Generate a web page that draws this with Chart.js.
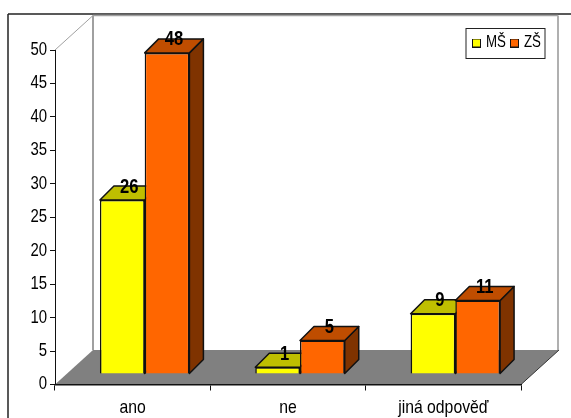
<!DOCTYPE html>
<html>
<head>
<meta charset="utf-8">
<style>
  html, body { margin: 0; padding: 0; background: #fff; overflow: hidden; }
  canvas { display: block; }
</style>
<script src="https://cdn.jsdelivr.net/npm/chart.js@4"></script>
</head>
<body>
<canvas id="chart" width="571" height="418"></canvas>
<script>
const categories = ['ano', 'ne', 'jiná odpověď'];
const seriesNames = ['MŠ', 'ZŠ'];
const msValues = [26, 1, 9];
const zsValues = [48, 5, 11];
const yTicksMax = 50;
const yTicksStep = 5;

const FONT = '"Liberation Sans", Arial, sans-serif';
const TEXT_SQUEEZE = 0.83;

// Projection of the 3D look: how far the walls recede and where bars stand on the floor.
const WALL_DX = 38, WALL_DY = 34.5;
const BAR_DX = 12, BAR_DY = 10.5;
const DEPTH_DX = 14, DEPTH_DY = 14;

const frontColors = ['#ffff00', '#ff6600'];
const faceColors = [
  { top: '#bfbf00', side: '#808000' },
  { top: '#bf4d00', side: '#7f3300' }
];

const canvas = document.getElementById('chart');
const context = canvas.getContext('2d');

// All labels use a narrow cut of the type: squeeze glyphs horizontally around their anchor.
const plainFillText = context.fillText.bind(context);
context.fillText = function (text, x, y, maxWidth) {
  context.save();
  context.translate(x, y);
  context.scale(TEXT_SQUEEZE, 1);
  if (maxWidth === undefined) plainFillText(text, 0, 0);
  else plainFillText(text, 0, 0, maxWidth / TEXT_SQUEEZE);
  context.restore();
};

function poly(ctx, pts, fill, stroke, width) {
  ctx.beginPath();
  pts.forEach((p, i) => i ? ctx.lineTo(p[0], p[1]) : ctx.moveTo(p[0], p[1]));
  ctx.closePath();
  if (fill) { ctx.fillStyle = fill; ctx.fill(); }
  if (stroke) { ctx.strokeStyle = stroke; ctx.lineWidth = width; ctx.stroke(); }
}

function line(ctx, x1, y1, x2, y2, color, width) {
  ctx.beginPath();
  ctx.moveTo(x1, y1);
  ctx.lineTo(x2, y2);
  ctx.strokeStyle = color;
  ctx.lineWidth = width;
  ctx.stroke();
}

// Small framed square used as a legend key.
function legendKey(color) {
  const key = document.createElement('canvas');
  key.width = 9;
  key.height = 9;
  const k = key.getContext('2d');
  k.fillStyle = color;
  k.fillRect(0, 0, 9, 9);
  k.strokeStyle = '#111';
  k.lineWidth = 1;
  k.strokeRect(0.5, 0.5, 8, 8);
  return key;
}

const box3d = {
  id: 'box3d',
  afterLayout(chart) {
    // Legend sits at a fixed spot in the upper right of the plot.
    const lg = chart.legend;
    const w = lg.width, h = lg.height;
    lg.left = 472; lg.right = 472 + w;
    lg.top = 32; lg.bottom = 32 + h;
  },
  beforeDraw(chart) {
    const { ctx, scales: { x, y } } = chart;
    const x0 = x.left, x1 = x.right, y0 = y.getPixelForValue(0), yTop = y.getPixelForValue(yTicksMax);

    ctx.save();
    // Outer frame of the picture, running off the right and bottom edges.
    line(ctx, 8, 14, 571, 14, '#222', 1.5);
    line(ctx, 8, 14, 8, 418, '#222', 1.5);

    // Back wall outline and receding edge.
    line(ctx, x0 + WALL_DX, yTop - WALL_DY, x1 + WALL_DX - 1, yTop - WALL_DY, '#a0a0a0', 1.5);
    line(ctx, x0 + WALL_DX, yTop - WALL_DY, x0 + WALL_DX, y0 - WALL_DY, '#a0a0a0', 2);
    line(ctx, x1 + WALL_DX - 1, yTop - WALL_DY, x1 + WALL_DX - 1, y0 - WALL_DY, '#b0b0b0', 2);
    line(ctx, x0, yTop, x0 + WALL_DX, yTop - WALL_DY, '#a0a0a0', 1);

    // Floor.
    poly(ctx, [[x0, y0], [x1, y0], [x1 + WALL_DX, y0 - WALL_DY], [x0 + WALL_DX, y0 - WALL_DY]], '#808080');
    line(ctx, x1, y0, x1 + WALL_DX, y0 - WALL_DY, '#333', 1);

    // Legend frame.
    ctx.fillStyle = '#fff';
    ctx.fillRect(466, 28.5, 79, 30);
    ctx.strokeStyle = '#222';
    ctx.lineWidth = 1;
    ctx.strokeRect(466, 28.5, 79, 30);
    ctx.restore();
  },
  beforeDatasetsDraw(chart) {
    // Draw series left to right so each bar overlaps the depth faces of its left neighbour.
    const { ctx, data } = chart;
    data.datasets.forEach((ds, i) => {
      const meta = chart.getDatasetMeta(i);
      const colors = faceColors[i];
      ctx.save();
      ctx.translate(BAR_DX, -BAR_DY);
      ctx.lineJoin = 'round';
      meta.data.forEach(bar => {
        const l = bar.x - bar.width / 2, r = bar.x + bar.width / 2;
        const t = bar.y, b = bar.base;
        poly(ctx, [[r, t], [r + DEPTH_DX, t - DEPTH_DY], [r + DEPTH_DX, b - DEPTH_DY], [r, b]], colors.side, '#111', 1.5);
        poly(ctx, [[l, t], [l + DEPTH_DX, t - DEPTH_DY], [r + DEPTH_DX, t - DEPTH_DY], [r, t]], colors.top, '#111', 1.5);
      });
      meta.controller.draw();
      ctx.restore();
    });

    // Value labels above the top faces.
    ctx.save();
    ctx.font = 'bold 20px ' + FONT;
    ctx.fillStyle = '#000';
    ctx.textAlign = 'center';
    ctx.textBaseline = 'middle';
    data.datasets.forEach((ds, i) => {
      chart.getDatasetMeta(i).data.forEach((bar, j) => {
        ctx.fillText(String(ds.data[j]), bar.x + BAR_DX + 7, bar.y - BAR_DY - 13);
      });
    });
    ctx.restore();
    return false;
  }
};

new Chart(canvas, {
  type: 'bar',
  plugins: [box3d],
  data: {
    labels: categories,
    datasets: [
      { label: seriesNames[0], data: msValues, backgroundColor: frontColors[0], borderColor: '#111', borderWidth: 1.5 },
      { label: seriesNames[1], data: zsValues, backgroundColor: frontColors[1], borderColor: '#111', borderWidth: 1.5 }
    ]
  },
  options: {
    responsive: false,
    animation: false,
    layout: { padding: { top: 21, right: 50, left: 0, bottom: 0 } },
    categoryPercentage: 0.576,
    barPercentage: 1,
    plugins: {
      tooltip: { enabled: false },
      legend: {
        position: 'top',
        align: 'start',
        labels: {
          color: '#000',
          font: { family: FONT, size: 16 },
          usePointStyle: true,
          pointStyleWidth: 3,
          boxHeight: 9,
          padding: 3,
          generateLabels(chart) {
            const items = Chart.defaults.plugins.legend.labels.generateLabels(chart);
            items.forEach((item, i) => { item.pointStyle = legendKey(frontColors[i]); });
            return items;
          }
        }
      }
    },
    scales: {
      x: {
        afterFit: s => { s.height = 33.5; },
        grid: { drawOnChartArea: false, drawTicks: true, tickLength: 6, color: '#111', lineWidth: 1 },
        border: { display: true, color: '#111', width: 1.5 },
        ticks: { color: '#000', font: { family: FONT, size: 19 }, padding: 6, maxRotation: 0 }
      },
      y: {
        min: 0,
        max: yTicksMax,
        afterFit: s => { s.width = 55; },
        grid: { drawOnChartArea: false, drawTicks: true, tickLength: 5, color: '#111', lineWidth: 1 },
        border: { display: true, color: '#111', width: 1 },
        ticks: { stepSize: yTicksStep, color: '#000', font: { family: FONT, size: 18 }, padding: 3 }
      }
    }
  }
});
</script>
</body>
</html>
